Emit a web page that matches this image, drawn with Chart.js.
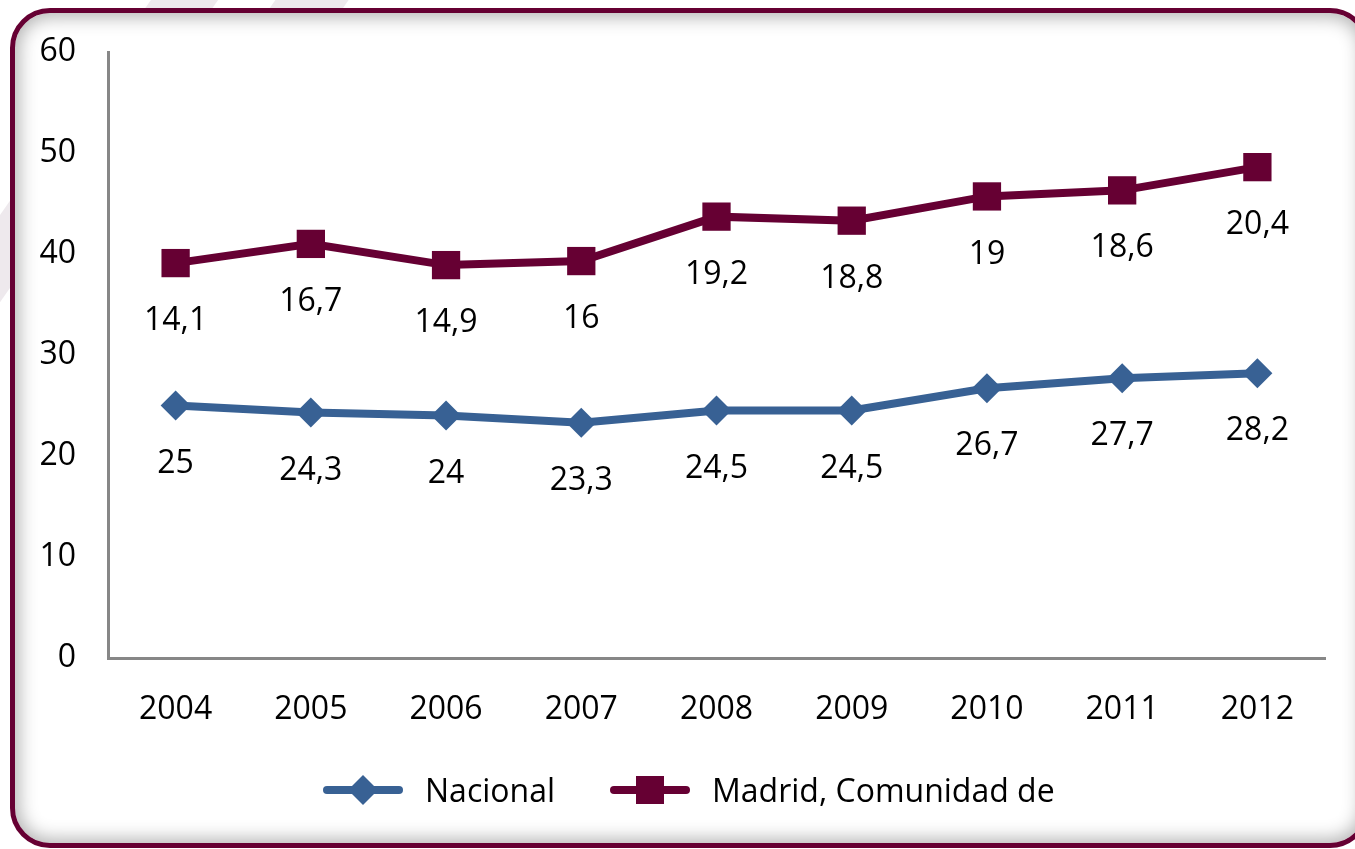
<!DOCTYPE html>
<html>
<head>
<meta charset="utf-8">
<script src="https://cdn.jsdelivr.net/npm/chart.js@4"></script>
<style>
  html,body{margin:0;padding:0;width:1355px;height:849px;overflow:hidden;background:#fff;position:relative}
  .stripe{position:absolute;background:#eee9ed;transform:rotate(35deg);transform-origin:center}
  .frame{position:absolute;left:10px;top:8px;width:1350px;height:830px;border:5px solid #660033;border-radius:40px;background:#fff;box-shadow:inset 0 0 18px 4px rgba(0,0,0,0.3)}
  #chart{position:absolute;left:0;top:0}
  .legend{position:absolute;top:0;left:0;font-family:"Open Sans",sans-serif;font-size:32px;color:#000}
  .legend canvas,.legend span{position:absolute}
  .legend span{white-space:nowrap;line-height:40px;top:770px}
  .legend canvas{top:774px}
</style>
</head>
<body>
<div class="stripe" style="left:150px;top:-60px;width:55px;height:140px"></div>
<div class="stripe" style="left:275px;top:-60px;width:60px;height:140px"></div>
<div class="stripe" style="left:-40px;top:180px;width:50px;height:200px"></div>
<div class="frame"></div>
<canvas id="chart" width="1355" height="849"></canvas>
<div class="legend" id="legend"></div>
<script>
const years = ['2004','2005','2006','2007','2008','2009','2010','2011','2012'];
const nacional = [25, 24.3, 24, 23.3, 24.5, 24.5, 26.7, 27.7, 28.2];
const madrid = [14.1, 16.7, 14.9, 16, 19.2, 18.8, 19, 18.6, 20.4];
const yTicks = [0, 10, 20, 30, 40, 50, 60];

const BLUE = '#386194';
const MAROON = '#660033';
const FONT = {family: '"Open Sans", sans-serif', size: 32};

function legendIcon(color, style){
  const c = document.createElement('canvas');
  c.width = 80; c.height = 32;
  const g = c.getContext('2d');
  g.strokeStyle = color; g.fillStyle = color;
  g.lineWidth = 8; g.lineCap = 'round';
  g.beginPath(); g.moveTo(4, 16); g.lineTo(76, 16); g.stroke();
  g.beginPath();
  if(style === 'diamond'){
    g.moveTo(40, 1); g.lineTo(55, 16); g.lineTo(40, 31); g.lineTo(25, 16);
  }else{
    g.rect(26, 2, 28, 28);
  }
  g.fill();
  return c;
}

// legend drawn as html: line + marker icon, then the series name
function renderLegend(items){
  const box = document.getElementById('legend');
  items.forEach(it => {
    const ic = legendIcon(it.color, it.style);
    ic.style.left = it.iconX + 'px';
    const sp = document.createElement('span');
    sp.textContent = it.text;
    sp.style.left = it.textX + 'px';
    box.appendChild(ic); box.appendChild(sp);
  });
}

const valueLabels = {
  id: 'valueLabels',
  afterDatasetsDraw(chart){
    const ctx = chart.ctx;
    ctx.save();
    ctx.font = FONT.size + 'px ' + FONT.family;
    ctx.fillStyle = '#000';
    ctx.textAlign = 'center';
    ctx.textBaseline = 'middle';
    chart.data.datasets.forEach((ds, i) => {
      chart.getDatasetMeta(i).data.forEach((pt, j) => {
        ctx.fillText(String(ds.data[j]).replace('.', ','), pt.x, pt.y + 58);
      });
    });
    ctx.restore();
  }
};

new Chart(document.getElementById('chart'), {
  type: 'line',
  data: {
    labels: years,
    datasets: [
      {label: 'Nacional', data: nacional, borderColor: BLUE, backgroundColor: BLUE,
       borderWidth: 8, pointStyle: 'rectRot', pointRadius: 15, pointBorderWidth: 0, tension: 0, fill: false},
      {label: 'Madrid, Comunidad de', data: madrid, borderColor: MAROON, backgroundColor: MAROON,
       borderWidth: 8, pointStyle: 'rect', pointRadius: 20, pointBorderWidth: 0, tension: 0, fill: false}
    ]
  },
  options: {
    responsive: false,
    animation: false,
    layout: {padding: {left: 15, right: 30, top: 52, bottom: 0}},
    plugins: {
      tooltip: {enabled: false},
      legend: {display: false}
    },
    scales: {
      x: {
        offset: true,
        grid: {display: false},
        border: {color: '#878787', width: 3},
        ticks: {color: '#000', font: FONT, padding: 25, maxRotation: 0},
        afterFit: s => { s.height = 849 - 658; }
      },
      y: {
        stacked: true,
        min: 0, max: 60,
        grid: {display: false},
        border: {color: '#878787', width: 3},
        afterBuildTicks: s => { s.ticks = yTicks.map(v => ({value: v})); },
        ticks: {color: '#000', font: FONT, padding: 24},
        afterFit: s => { s.width = 93; }
      }
    }
  },
  plugins: [valueLabels]
});

renderLegend([
  {text: 'Nacional', color: BLUE, style: 'diamond', iconX: 323, textX: 425},
  {text: 'Madrid, Comunidad de', color: MAROON, style: 'square', iconX: 610, textX: 712}
]);
</script>
</body>
</html>
